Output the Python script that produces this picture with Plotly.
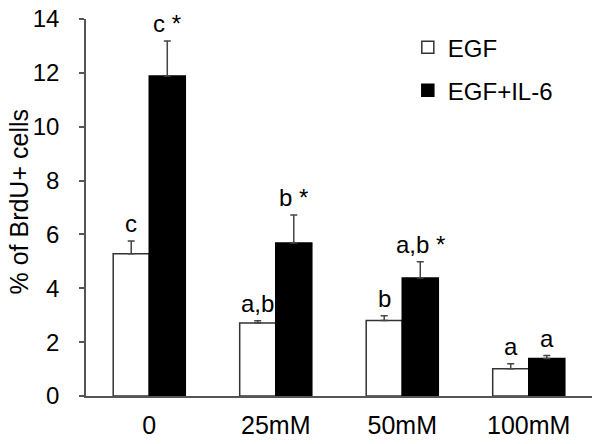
import plotly.graph_objects as go

categories = ["0", "25mM", "50mM", "100mM"]
egf = [5.28, 2.71, 2.80, 1.01]
egf_err = [0.48, 0.08, 0.18, 0.19]
il6 = [11.88, 5.68, 4.38, 1.39]
il6_err = [1.30, 1.04, 0.61, 0.11]
egf_labels = ["c", "a,b", "b", "a"]
il6_labels = ["c *", "b *", "a,b *", "a"]
y_ticks = [0, 2, 4, 6, 8, 10, 12, 14]
y_title = "% of BrdU+ cells"

FONT = "Arial, Liberation Sans, sans-serif"
BARGAP = 0.43
AX = "#555555"

fig = go.Figure()
fig.add_trace(go.Bar(
    x=categories, y=egf, name="EGF", legendgroup="a",
    marker=dict(color="white", line=dict(color="#333333", width=1.5)),
    error_y=dict(type="data", array=egf_err, arrayminus=[0]*4, symmetric=False,
                 color="#444444", thickness=1.5, width=3.5),
))
fig.add_trace(go.Bar(
    x=categories, y=il6, name="EGF+IL-6", legendgroup="b",
    marker=dict(color="black", line=dict(color="black", width=1.5)),
    error_y=dict(type="data", array=il6_err, arrayminus=[0]*4, symmetric=False,
                 color="#444444", thickness=1.5, width=3.5),
))

off = (1 - BARGAP) / 4
for i in range(len(categories)):
    fig.add_annotation(x=i - off, y=egf[i] + egf_err[i], xref="x", yref="y",
                       text=egf_labels[i], showarrow=False, yanchor="bottom",
                       yshift=2, font=dict(size=24, color="black", family=FONT))
    fig.add_annotation(x=i + off, y=il6[i] + il6_err[i], xref="x", yref="y",
                       text=il6_labels[i], showarrow=False, yanchor="bottom",
                       yshift=2, font=dict(size=24, color="black", family=FONT))

# y-axis title as a rotated annotation for precise placement
fig.add_annotation(x=0, y=0.5, xref="paper", yref="paper", text=y_title,
                   textangle=-90, showarrow=False, xanchor="center", yanchor="middle",
                   xshift=-68, yshift=6, font=dict(size=25, color="black", family=FONT))

fig.update_layout(
    width=602, height=444,
    margin=dict(l=86, r=10, t=19, b=48),
    paper_bgcolor="white", plot_bgcolor="white",
    barmode="group", bargap=BARGAP, bargroupgap=0,
    font=dict(family=FONT, size=24, color="black"),
    showlegend=True,
    legend=dict(x=0.636, y=0.984, xanchor="left", yanchor="top",
                font=dict(size=24, family=FONT), tracegroupgap=9,
                bgcolor="rgba(0,0,0,0)", itemwidth=30),
    xaxis=dict(type="category", range=[-0.5, 3.5], showline=True, linecolor=AX,
               linewidth=1.5, ticks="", showgrid=False, zeroline=False,
               automargin=False,
               tickfont=dict(size=25, family=FONT), ticklabelstandoff=6),
    yaxis=dict(range=[0, 14], tickvals=y_ticks, showline=True, linecolor=AX,
               linewidth=1.5, ticks="outside", ticklen=5, tickcolor=AX, tickwidth=1.5,
               showgrid=False, zeroline=False, automargin=False,
               ticklabeloverflow="allow",
               tickfont=dict(size=24, family=FONT), ticklabelstandoff=15),
)

fig.write_html("out.html", config={"displayModeBar": False},
               post_script="document.body.style.margin='0';")
